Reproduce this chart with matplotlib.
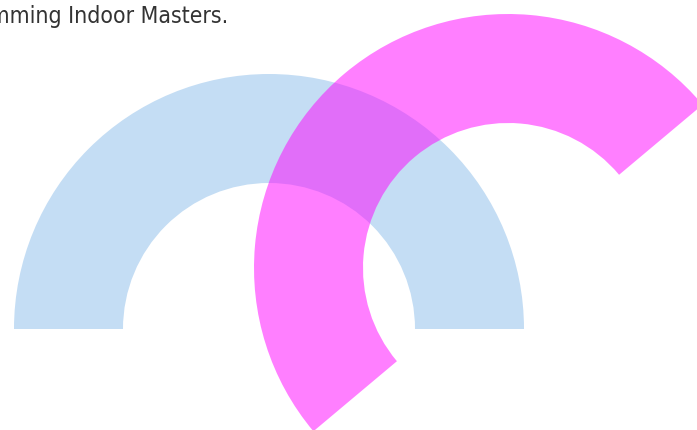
import matplotlib
matplotlib.use("Agg")
import matplotlib.pyplot as plt
from matplotlib.patches import Wedge

# Data
arc_names = ["blue", "magenta"]
start_angles = [0, 40]
end_angles = [180, 220]
outer_radii = [255, 254]
inner_radii = [146, 145]
centers_x = [269, 508]
centers_y = [101, 162]
colors = ["#c4ddf4", "#ff00ff"]
alphas = [1.0, 0.5]
title = "Swimming Indoor Masters."

fig = plt.figure(figsize=(6.97, 4.30), dpi=100)
ax = fig.add_axes([0, 0, 1, 1])
ax.set_xlim(0, 697)
ax.set_ylim(0, 430)
ax.axis("off")

for cx, cy, r_out, r_in, a0, a1, c, al in zip(centers_x, centers_y, outer_radii,
                                               inner_radii, start_angles, end_angles,
                                               colors, alphas):
    w = Wedge((cx, cy), r_out, a0, a1, width=r_out - r_in, facecolor=c,
              edgecolor="none", alpha=al, antialiased=True)
    ax.add_patch(w)

fig.text(228 / 697, 1 - 17 / 430, title, ha="right", va="center",
         fontsize=16.5, color="#333333", fontstretch="condensed",
         family=["DejaVu Sans"])

fig.savefig("out.png", dpi=100)
